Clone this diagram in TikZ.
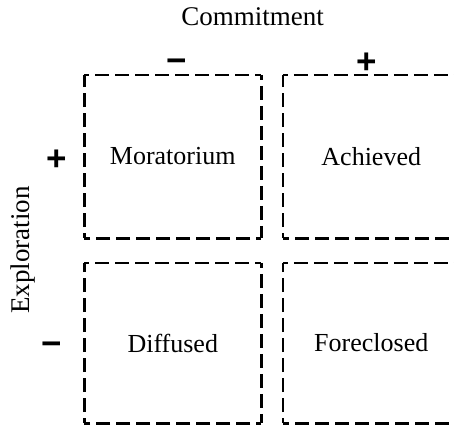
\documentclass[tikz,border=0pt]{standalone}
\usepackage{fontspec}
\setmainfont{Liberation Serif}
\newfontfamily\signfont{Liberation Sans}[BoldFont={Liberation Sans Bold}]
\begin{document}
\begin{tikzpicture}[x=1pt,y=-1pt,
  quad/.style={minimum width=176.5pt,inner sep=0pt,font=\fontsize{26}{30}\selectfont},
  axis/.style={inner sep=0pt,font=\fontsize{27}{31}\selectfont},
  sign/.style={inner sep=0pt,font=\signfont\bfseries\fontsize{35}{40}\selectfont},
  dashside/.style={line width=2.6pt,dash pattern=on 14pt off 6pt,dash phase=9pt}]
\useasboundingbox (0,0) rectangle (454,429);
\clip (0,0) rectangle (454,429);
\node[quad,minimum height=163pt] (mor) at (172.75,156.5) {Moratorium};
\node[quad,minimum height=163pt] (ach) at (371.25,156.5) {Achieved};
\node[quad,minimum height=160pt] (dif) at (172.75,343) {Diffused};
\node[quad,minimum height=160pt] (for) at (371.25,343) {Foreclosed};
\foreach \b in {mor,ach,dif,for}{
  \draw[dashside] (\b.north west) -- (\b.north east);
  \draw[dashside] (\b.north east) -- (\b.south east);
  \draw[dashside] (\b.south east) -- (\b.south west);
  \draw[dashside] (\b.south west) -- (\b.north west);
}
\node[axis] (com) at (252.5,17) {Commitment};
\node[axis,rotate=90] (exp) at (23,250) {Exploration};
\node[sign] (cm) at (176.7,66) {−};
\node[sign] (cp) at (367,63) {+};
\node[sign] (ep) at (57,160) {+};
\node[sign] (em) at (52,349) {−};
\end{tikzpicture}
\end{document}
